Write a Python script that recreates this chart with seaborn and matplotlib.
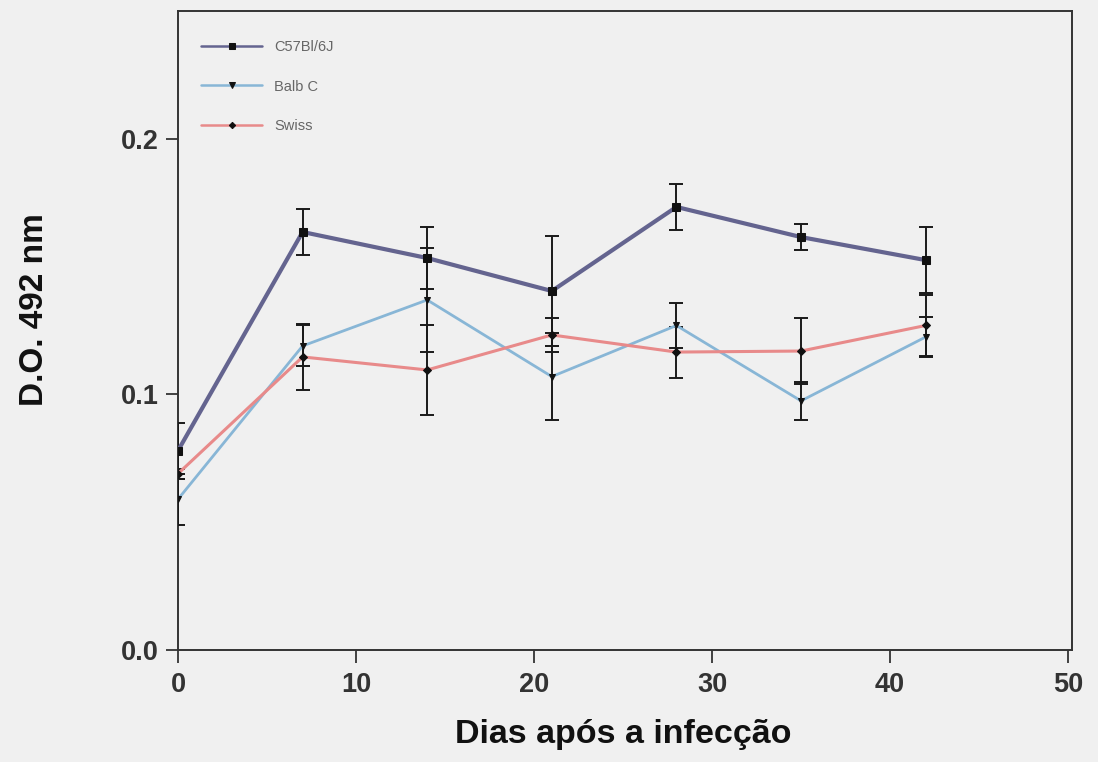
import matplotlib
matplotlib.use("Agg")
import matplotlib.pyplot as plt
import seaborn as sns
import pandas as pd
import numpy as np

days = [0, 7, 14, 21, 28, 35, 42]
series_names = ["C57Bl/6J", "Balb C", "Swiss"]
c57_mean = [0.078, 0.1636, 0.1534, 0.1405, 0.1734, 0.1616, 0.1526]
c57_err = [0.011, 0.009, 0.012, 0.0215, 0.009, 0.005, 0.013]
balb_mean = [0.059, 0.119, 0.137, 0.107, 0.127, 0.0975, 0.1225]
balb_err = [0.010, 0.008, 0.0205, 0.017, 0.009, 0.0075, 0.008]
swiss_mean = [0.069, 0.1147, 0.1096, 0.1233, 0.1166, 0.117, 0.127]
swiss_err = [0.002, 0.013, 0.0175, 0.0067, 0.010, 0.013, 0.012]

x_ticks = [0, 10, 20, 30, 40, 50]
y_ticks = [0.0, 0.1, 0.2]
y_tick_labels = ["0.0", "0.1", "0.2"]

colors = {"C57Bl/6J": "#64648f", "Balb C": "#88b6d6", "Swiss": "#e88a8a"}
widths = {"C57Bl/6J": 3.0, "Balb C": 2.0, "Swiss": 2.2}
markers = {"C57Bl/6J": "s", "Balb C": "v", "Swiss": "D"}
msizes = {"C57Bl/6J": 6, "Balb C": 5, "Swiss": 4}

means = {"C57Bl/6J": c57_mean, "Balb C": balb_mean, "Swiss": swiss_mean}
errs = {"C57Bl/6J": c57_err, "Balb C": balb_err, "Swiss": swiss_err}

rows = []
for name in series_names:
    for d, m in zip(days, means[name]):
        rows.append({"day": d, "od": m, "strain": name})
df = pd.DataFrame(rows)

sns.set_style("ticks")
plt.rcParams["font.family"] = ["Liberation Sans", "DejaVu Sans"]

fig = plt.figure(figsize=(10.98, 7.62), dpi=100, facecolor="#f0f0f0")
ax = fig.add_axes([0.1621, 0.1470, 0.9763 - 0.1621, 0.9856 - 0.1470])
ax.set_facecolor("#f0f0f0")

for name in series_names:
    sub = df[df.strain == name]
    ax.errorbar(sub["day"], sub["od"], yerr=errs[name], fmt="none",
                ecolor="#1a1a1a", elinewidth=1.4, capsize=5, capthick=1.4, zorder=3)

for name in series_names:
    sub = df[df.strain == name]
    sns.lineplot(data=sub, x="day", y="od", ax=ax, color=colors[name],
                 linewidth=widths[name], marker=markers[name],
                 markersize=msizes[name], markerfacecolor="#111111",
                 markeredgecolor="#111111", label=name, zorder=4)

ax.set_xlim(0, 50.22)
ax.set_ylim(0, 0.2501)
ax.set_xticks(x_ticks)
ax.set_yticks(y_ticks)
ax.set_yticklabels(y_tick_labels)
for lbl in ax.get_xticklabels() + ax.get_yticklabels():
    lbl.set_fontweight("bold")
    lbl.set_fontsize(19.5)
    lbl.set_color("#222222")
ax.tick_params(direction="out", length=9, width=1.3, colors="#333333", pad=5)
ax.tick_params(axis="x", pad=7)
for sp in ax.spines.values():
    sp.set_visible(True)
    sp.set_color("#333333")
    sp.set_linewidth(1.4)

ax.set_xlabel("Dias após a infecção", fontsize=24.5, fontweight="bold", color="#111111")
ax.set_ylabel("D.O. 492 nm", fontsize=24, fontweight="bold", color="#111111")
ax.xaxis.set_label_coords(0.498, -0.108)
ax.yaxis.set_label_coords(-0.143, 0.532)

leg = ax.legend(loc="upper left", frameon=False, fontsize=10.5, handlelength=4.2,
                labelspacing=1.75, bbox_to_anchor=(0.011, 0.975), markerscale=0.8)
for t in leg.get_texts():
    t.set_color("#666666")
for h in leg.get_lines():
    h.set_linewidth(1.8)

fig.savefig("out.png", dpi=100, facecolor="#f0f0f0")
